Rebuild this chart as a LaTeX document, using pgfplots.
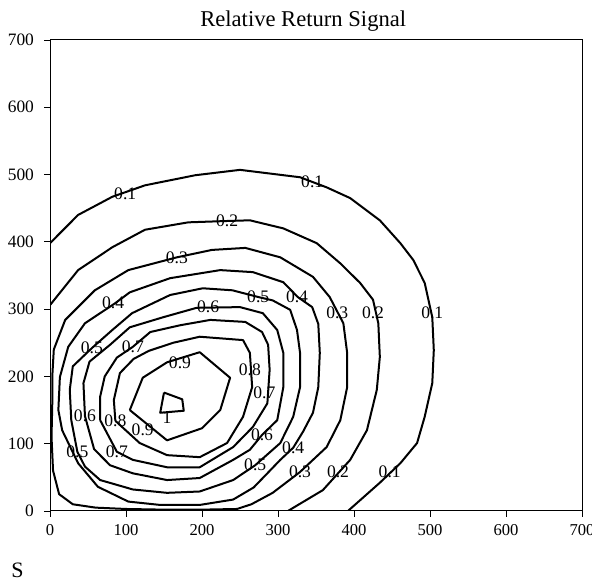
\documentclass[border=0pt]{standalone}
\usepackage{pgfplots}
\pgfplotsset{compat=1.18}
\usepackage{fontspec}
\setmainfont{Liberation Serif}
\tikzset{lab/.style={font=\fontsize{8.8}{10}\selectfont, inner sep=0.5pt}}
\pgfplotsset{ctr/.style={black, solid, no markers, line width=1pt, line join=round}}

\begin{document}
\begin{tikzpicture}
\path[use as bounding box] (0,0) rectangle (296pt,290.5pt);
\begin{axis}[
  at={(25pt,35pt)}, anchor=south west,
  scale only axis, width=266pt, height=235.5pt,
  xmin=0, xmax=700, ymin=0, ymax=700,
  xtick={0,100,...,700}, ytick={0,100,...,700},
  tick align=outside, xtick pos=bottom, ytick pos=left,
  major tick length=3pt,
  tick style={black, line width=0.4pt},
  axis line style={black, line width=0.5pt},
  /pgf/number format/assume math mode=true,
  yticklabel style={font=\fontsize{8.7}{10}\selectfont, xshift=-1.5pt},
  xticklabel style={font=\fontsize{8.3}{10}\selectfont},
  title={Relative Return Signal},
  title style={font=\fontsize{11.3}{13}\selectfont, at={(0.476,1)}, anchor=base, yshift=0.5pt},
]
% level 0.1
\addplot[ctr] coordinates {(0,398) (37,440) (82,467) (125,484) (191,499) (250,507) (329,496) (364,481) (395,465) (434,432) (461,398) (478,373) (493,339) (503,288) (505,239) (503,190) (493,140) (483,101) (461,71) (434,42) (392,0)};
% level 0.2
\addplot[ctr] coordinates {(0,306) (37,358) (82,392) (125,418) (182,429) (233,431) (263,432) (307,420) (351,398) (382,368) (408,339) (425,314) (432,279) (434,229) (430,180) (417,120) (395,76) (359,31) (313,0)};
% level 0.3
\addplot[ctr] coordinates {(2,110) (3,160) (3,200) (5,240) (20,284) (59,328) (103,358) (167,377) (213,388) (257,391) (303,377) (346,348) (368,318) (386,279) (391,235) (391,184) (382,135) (364,95) (329,58) (293,27) (265,10) (246,3) (200,2) (150,2) (100,3) (60,5) (30,10) (12,25) (4,60) (2,110)};
% level 0.4
\addplot[ctr] coordinates {(105,325) (158,346) (224,358) (267,355) (307,340) (326,318) (345,303) (353,278) (355,235) (353,184) (346,146) (333,118) (320,94) (303,76) (286,56) (268,35) (241,17) (197,9) (145,9) (103,14) (63,36) (37,71) (16,120) (11,150) (13,199) (24,244) (46,279) (86,309) (105,325)};
% level 0.5
\addplot[ctr] coordinates {(108,294) (158,321) (201,331) (240,328) (274,318) (293,313) (316,299) (325,269) (329,235) (329,184) (320,140) (303,101) (270,68) (241,46) (197,29) (154,27) (109,32) (66,46) (46,66) (36,88) (28,135) (26,180) (30,215) (55,242) (82,269) (108,294)};
% level 0.6
\addplot[ctr] coordinates {(46,141) (44,190) (52,222) (79,247) (105,273) (149,288) (193,302) (250,303) (280,294) (299,269) (307,235) (307,184) (299,135) (279,113) (263,91) (241,76) (197,49) (154,46) (109,56) (79,68) (58,92) (46,141)};
% level 0.7
\addplot[ctr] coordinates {(66,135) (66,170) (72,200) (88,228) (109,244) (132,266) (171,276) (211,284) (257,281) (279,266) (287,247) (289,210) (286,160) (267,125) (241,95) (197,65) (154,65) (109,76) (88,88) (66,135)};
% level 0.8
\addplot[ctr] coordinates {(86,134) (84,165) (92,205) (110,226) (130,238) (162,250) (197,259) (254,254) (263,235) (266,184) (254,140) (233,101) (197,80) (154,83) (118,101) (86,134)};
% level 0.9
\addplot[ctr] coordinates {(105,150) (122,198) (154,221) (197,236) (237,198) (224,150) (200,123) (154,105) (105,150)};
% level 1.0
\addplot[ctr] coordinates {(150,176) (174,166) (176,149) (145,146) (150,176)};

% contour labels
\node[lab] at (axis cs:99,472) {0.1};
\node[lab] at (axis cs:345,489) {0.1};
\node[lab] at (axis cs:503,294) {0.1};
\node[lab] at (axis cs:447,58) {0.1};
\node[lab] at (axis cs:233,431) {0.2};
\node[lab] at (axis cs:425,294) {0.2};
\node[lab] at (axis cs:379,58) {0.2};
\node[lab] at (axis cs:167,377) {0.3};
\node[lab] at (axis cs:378,294) {0.3};
\node[lab] at (axis cs:329,58) {0.3};
\node[lab] at (axis cs:83,309) {0.4};
\node[lab] at (axis cs:325,319) {0.4};
\node[lab] at (axis cs:320,94) {0.4};
\node[lab] at (axis cs:55,242) {0.5};
\node[lab] at (axis cs:274,318) {0.5};
\node[lab] at (axis cs:36,88) {0.5};
\node[lab] at (axis cs:270,68) {0.5};
\node[lab] at (axis cs:208,303) {0.6};
\node[lab] at (axis cs:46,141) {0.6};
\node[lab] at (axis cs:279,114) {0.6};
\node[lab] at (axis cs:109,244) {0.7};
\node[lab] at (axis cs:282,175) {0.7};
\node[lab] at (axis cs:88,88) {0.7};
\node[lab] at (axis cs:263,210) {0.8};
\node[lab] at (axis cs:86,134) {0.8};
\node[lab] at (axis cs:171,221) {0.9};
\node[lab] at (axis cs:122,120) {0.9};
\node[lab] at (axis cs:154,138) {1};
\end{axis}
\node[anchor=base west, font=\fontsize{11}{13}\selectfont, inner sep=0pt] at (5.5pt,1.5pt) {S};
\end{tikzpicture}
\end{document}
